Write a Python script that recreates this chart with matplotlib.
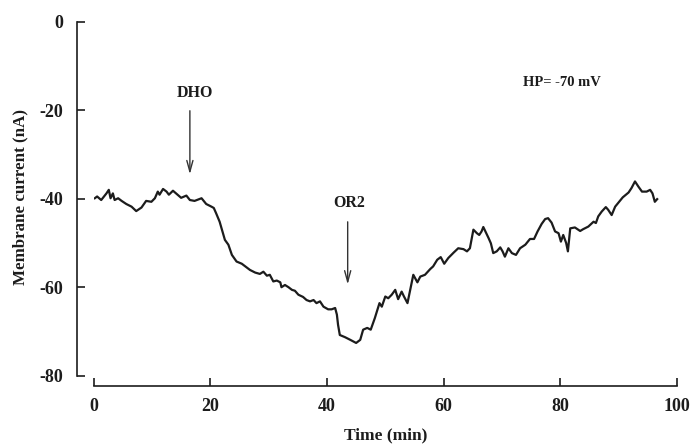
import matplotlib
matplotlib.use('Agg')
import matplotlib.pyplot as plt

# trace: time (min) and membrane current (nA)
time_min = [0.2, 0.6, 1.3, 2.2, 2.6, 2.9, 3.3, 3.6, 4.2, 4.8, 5.6, 6.5, 7.3, 8.2,
            9.0, 9.9, 10.5, 11.0, 11.3, 11.9, 12.5, 12.9, 13.6, 14.4, 15.0, 15.9,
            16.5, 17.3, 18.5, 19.3, 20.2, 20.6, 21.0, 21.6, 22.0, 22.5, 23.1, 23.7,
            24.5, 25.4, 26.0, 26.8, 27.7, 28.5, 29.1, 29.7, 30.2, 30.8, 31.4, 32.0,
            32.2, 32.8, 33.4, 34.0, 34.5, 35.1, 35.9, 36.5, 37.1, 37.7, 38.2, 38.8,
            39.4, 40.2, 40.8, 41.4, 41.7, 41.9, 42.2, 43.1, 44.0, 45.0, 45.7, 46.2,
            46.9, 47.5, 48.2, 49.0, 49.4, 50.0, 50.5, 51.1, 51.7, 52.2, 52.8, 53.2,
            53.8, 54.2, 54.8, 55.5, 56.0, 56.8, 57.7, 58.2, 58.9, 59.5, 60.1, 60.8,
            61.7, 62.5, 63.4, 64.0, 64.5, 65.1, 65.7, 66.1, 66.5, 66.8, 67.3, 67.7,
            68.1, 68.5, 69.1, 69.7, 70.1, 70.5, 71.1, 71.7, 72.4, 73.1, 74.0, 74.8,
            75.5, 76.1, 76.8, 77.4, 77.9, 78.5, 79.1, 79.7, 80.1, 80.5, 81.0, 81.3,
            81.7, 82.5, 83.4, 83.9, 84.8, 85.7, 86.1, 86.5, 87.1, 87.8, 88.2, 88.8,
            89.4, 89.9, 90.7, 91.7, 92.2, 92.8, 93.4, 94.0, 94.8, 95.4, 95.8, 96.2,
            96.6]
current_nA = [-39.9, -39.5, -40.3, -38.8, -38.0, -39.9, -38.8, -40.3, -39.9, -40.5,
              -41.2, -41.8, -42.8, -42.0, -40.5, -40.7, -39.9, -38.4, -39.1, -37.8,
              -38.4, -39.1, -38.2, -39.1, -39.8, -39.3, -40.3, -40.5, -39.9, -41.2,
              -41.8, -42.1, -43.3, -45.2, -47.0, -49.3, -50.4, -52.7, -54.2, -54.7,
              -55.3, -56.1, -56.7, -57.0, -56.5, -57.4, -57.2, -58.7, -58.5, -58.9,
              -60.0, -59.5, -60.0, -60.6, -60.8, -61.7, -62.2, -62.9, -63.2, -62.9,
              -63.6, -63.2, -64.4, -65.0, -65.0, -64.7, -66.2, -68.5, -70.8, -71.3,
              -71.9, -72.6, -71.9, -69.6, -69.2, -69.6, -67.0, -63.6, -64.4, -62.1,
              -62.5, -61.7, -60.6, -62.7, -61.0, -62.1, -63.6, -61.0, -57.2, -58.9,
              -57.6, -57.2, -55.9, -55.3, -53.8, -53.2, -54.7, -53.4, -52.2, -51.2,
              -51.4, -51.9, -51.2, -47.0, -47.8, -48.2, -47.4, -46.4, -47.8, -48.9,
              -50.1, -52.3, -51.9, -51.0, -51.9, -53.1, -51.2, -52.3, -52.7, -51.2,
              -50.4, -49.1, -49.1, -47.4, -45.7, -44.6, -44.4, -45.4, -47.4, -47.8,
              -49.7, -48.2, -50.0, -51.9, -46.7, -46.5, -47.3, -46.9, -46.3, -45.2,
              -45.5, -44.0, -42.9, -41.9, -42.5, -43.7, -41.8, -41.0, -39.7, -38.6,
              -37.6, -36.1, -37.3, -38.4, -38.4, -38.0, -38.8, -40.7, -40.1]

x_ticks = [0, 20, 40, 60, 80, 100]
y_ticks = [0, -20, -40, -60, -80]

# drug applications: label, time of arrow, arrow top / tip, label height, label time
events = [('DHO', 16.5, -19.5, -35.1, -16.1, 17.3),
          ('OR2', 43.55, -44.6, -60.0, -40.9, 43.8)]

plt.rcParams['font.family'] = ['Liberation Serif', 'DejaVu Serif']
plt.rcParams['font.weight'] = 'bold'
plt.rcParams['axes.unicode_minus'] = False

ink = '#1c1c1c'

fig = plt.figure(figsize=(6.93, 4.47), dpi=100)
ax = fig.add_axes([0.1351, 0.1595, 0.8418, 0.792])

ax.plot(time_min, current_nA, color=ink, linewidth=1.6)

for label, tx, ytop, ytip, ylab, xlab in events:
    ax.annotate('', xy=(tx, ytip), xytext=(tx, ytop),
                arrowprops=dict(arrowstyle='->,head_length=0.8,head_width=0.22',
                                color='#333333', lw=1.0))
    ax.text(xlab, ylab, label, ha='center', va='center', fontsize=11.5,
            fontweight='bold', color=ink)

ax.text(80.2, -13.8, 'HP= -70 mV', ha='center', va='center', fontsize=10.5,
        fontweight='bold', color=ink)

ax.set_xlim(0, 100)
ax.set_ylim(-80, 0)
ax.set_xticks(x_ticks)
ax.set_yticks(y_ticks)

for side in ['top', 'right']:
    ax.spines[side].set_visible(False)
ax.spines['left'].set_position(('outward', 12))
ax.spines['bottom'].set_position(('outward', 7.4))
ax.spines['left'].set_bounds(-80, 0)
ax.spines['bottom'].set_bounds(0, 100)
for side in ['left', 'bottom']:
    ax.spines[side].set_linewidth(1.2)
    ax.spines[side].set_color(ink)

ax.tick_params(axis='y', direction='in', length=6, width=1.2, pad=10,
               labelsize=13, colors=ink)
ax.tick_params(axis='x', direction='in', length=5.5, width=1.2, pad=8.5,
               labelsize=13, colors=ink)

ax.set_xlabel('Time (min)', fontsize=12.5, fontweight='bold', color=ink)
ax.xaxis.set_label_coords(0.5, -0.147)
ax.set_ylabel('Membrane current (nA)', fontsize=12.2, fontweight='bold', color=ink)
ax.yaxis.set_label_coords(-0.1124, 0.505)

fig.savefig('out.png', dpi=100)
